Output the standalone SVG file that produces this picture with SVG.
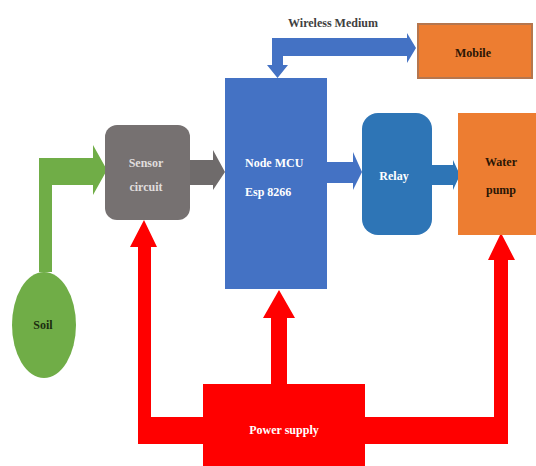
<svg xmlns="http://www.w3.org/2000/svg" width="536" height="466" viewBox="0 0 536 466">
<style>
text{font-family:"Liberation Serif","Times New Roman",serif;font-size:12px;font-weight:bold;text-anchor:middle}
.lt{fill:#ffffff}
.dk{fill:#2a1605}
.gr{fill:#e0dede}
</style>
<rect width="536" height="466" fill="#ffffff"/>
<g id="connectors">
<path d="M39,272 L39,158 L93,158 L93,145 L107,170 L93,195 L93,185 L52,185 L52,272 Z" fill="#70AD47"/>
<path d="M190,160 L213,160 L213,150 L225,172 L213,190 L213,185 L190,185 Z" fill="#6F6B6B"/>
<path d="M327,162 L353,162 L353,152 L362,172 L353,190 L353,183 L327,183 Z" fill="#4472C4"/>
<path d="M432,165 L453,165 L453,160 L460,175 L453,190 L453,185 L432,185 Z" fill="#2E75B6"/>
<path d="M277.5,78 L267,65 L272,65 L272,38 L407,38 L407,33 L416,48 L407,63 L407,56 L283,56 L283,65 L288,65 Z" fill="#4472C4"/>
<path d="M144,220 L157,247 L151,247 L151,417 L203,417 L203,444 L138,444 L138,247 L130,247 Z" fill="#FF0000"/>
<path d="M501,233 L515,260 L508,260 L508,444 L365,444 L365,417 L494,417 L494,260 L488,260 Z" fill="#FF0000"/>
<path d="M279,290 L295,318 L287,318 L287,384 L271,384 L271,318 L263,318 Z" fill="#FF0000"/>
</g>
<text x="333" y="27" style="fill:#404040">Wireless Medium</text>
<g id="soil">
<ellipse cx="44" cy="325" rx="32" ry="53" fill="#70AD47"/>
<text x="43" y="329" style="fill:#1c2e10">Soil</text>
</g>
<g id="sensor">
<rect x="105" y="125" width="85" height="95" rx="12" fill="#767171"/>
<text x="146" y="167" class="gr">Sensor</text>
<text x="146" y="191" class="gr">circuit</text>
</g>
<g id="mcu">
<rect x="225" y="78" width="102" height="211" fill="#4472C4"/>
<text x="245" y="167" class="lt" style="text-anchor:start">Node MCU</text>
<text x="245" y="196" class="lt" style="text-anchor:start">Esp 8266</text>
</g>
<g id="relay">
<rect x="362" y="113" width="70" height="122" rx="16" fill="#2E75B6"/>
<text x="394" y="180" class="lt">Relay</text>
</g>
<g id="pump">
<rect x="458" y="113" width="80" height="122" fill="#ED7D31"/>
<text x="501" y="166" class="dk">Water</text>
<text x="501" y="194" class="dk">pump</text>
</g>
<g id="mobile">
<rect x="418" y="24" width="114" height="54" fill="#ED7D31" stroke="#B5764E" stroke-width="2"/>
<text x="473" y="57" class="dk">Mobile</text>
</g>
<g id="power">
<rect x="203" y="384" width="162" height="84" fill="#FF0000"/>
<text x="284" y="434" class="lt">Power supply</text>
</g>
</svg>
